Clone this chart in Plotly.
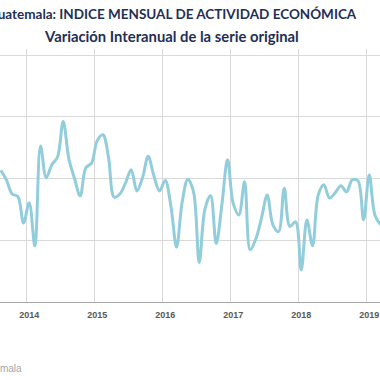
import plotly.graph_objects as go

# Monthly interannual variation (%), Aug 2013 - Mar 2019
start_year = 2013
start_month = 8
values = [
    4.27, 3.95, 3.50, 3.42, 2.56,                                        # 2013 Aug-Dec
    3.22, 1.82, 5.06, 4.03, 4.45, 4.70, 5.85, 4.64, 4.00, 3.44, 4.35, 4.50,  # 2014
    5.23, 5.42, 4.68, 3.40, 3.50, 3.86, 4.29, 3.60, 4.03, 4.72, 4.09, 3.60,  # 2015
    3.94, 3.12, 1.78, 3.25, 3.98, 3.57, 1.28, 3.00, 3.45, 1.90, 3.15, 4.61,  # 2016
    3.20, 2.82, 3.90, 1.69, 2.05, 2.73, 3.47, 2.50, 2.28, 3.69, 2.45, 2.60,  # 2017
    1.04, 2.66, 1.82, 3.47, 3.80, 3.37, 3.54, 3.77, 3.57, 3.96, 3.93, 2.66,  # 2018
    4.12, 2.82, 2.50,                                                    # 2019 Jan-Mar
]
year_labels = ["2014", "2015", "2016", "2017", "2018", "2019"]
title_text = "Guatemala: INDICE MENSUAL DE ACTIVIDAD ECONÓMICA"
subtitle_text = "Variación Interanual de la serie original"
source_text = "Fuente: Banco de Guatemala"

# month index relative to Jan 2014
first_idx = (start_year - 2014) * 12 + (start_month - 1)
x = [first_idx + i for i in range(len(values))]
label_pos = [12 * i for i in range(len(year_labels))]
grid_pos = [p - 0.5 for p in label_pos]

fig = go.Figure()
fig.add_trace(go.Scatter(
    x=x, y=values, mode="lines",
    line=dict(color="#92CDDC", width=3, shape="spline", smoothing=1.0),
    hoverinfo="skip", showlegend=False,
))

W, H = 380, 380
mt, mb = 49, 78
ph = H - mt - mb

def py(p):
    return (H - mb - p) / ph

fig.update_layout(
    width=W, height=H,
    margin=dict(l=0, r=0, t=mt, b=mb),
    paper_bgcolor="white", plot_bgcolor="white",
    xaxis=dict(
        range=[-5.15, 61.9],
        tickmode="array", tickvals=label_pos, ticktext=year_labels,
        showgrid=False, zeroline=False,
        showline=True, linecolor="#A6A6A6", linewidth=1,
        ticks="", ticklabelstandoff=4,
        tickfont=dict(family="Liberation Sans", size=9, color="#595959", weight="bold"),
        minor=dict(tickmode="array", tickvals=grid_pos, showgrid=True,
                   gridcolor="#D9D9D9", gridwidth=1, ticks=""),
    ),
    yaxis=dict(
        range=[0, 8.2], tick0=0, dtick=2, showticklabels=False,
        showgrid=True, gridcolor="#D9D9D9", gridwidth=1, zeroline=False,
    ),
    annotations=[
        dict(text=title_text, xref="paper", yref="paper", x=172 / W, y=py(14),
             xanchor="center", yanchor="middle", showarrow=False,
             font=dict(family="Lato", size=13.5, color="#1F2F55", weight="bold")),
        dict(text=subtitle_text, xref="paper", yref="paper", x=171.5 / W, y=py(36),
             xanchor="center", yanchor="middle", showarrow=False,
             font=dict(family="Lato", size=14.8, color="#1F2F55", weight="bold")),
        dict(text=source_text, xref="paper", yref="paper", x=24 / W, y=py(368),
             xanchor="right", yanchor="middle", showarrow=False,
             font=dict(family="Liberation Sans", size=10, color="#A6A6A6")),
    ],
)

fig.write_html("out.html", config={"displayModeBar": False},
               post_script="document.body.style.margin='0';")
